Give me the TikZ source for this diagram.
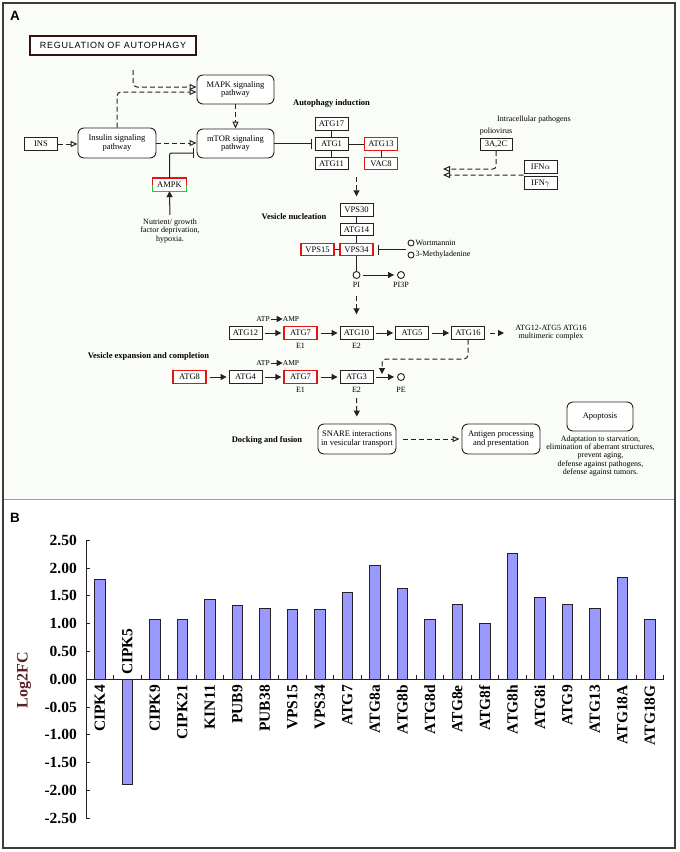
\documentclass[tikz,border=0pt]{standalone}
\usepackage{fontspec}
\setmainfont{Liberation Serif}
\newfontfamily\labsans{Liberation Sans}
\usetikzlibrary{arrows.meta,calc}
\definecolor{kline}{RGB}{40,32,32}
\definecolor{kred}{RGB}{228,20,20}
\definecolor{kgreen}{RGB}{40,200,40}
\definecolor{bgA}{RGB}{249,252,247}
\definecolor{barc}{RGB}{153,153,255}
\definecolor{framec}{RGB}{60,60,60}
\definecolor{divc}{RGB}{150,165,150}
\definecolor{ylab}{RGB}{90,35,40}
\begin{document}
\begin{tikzpicture}[x=1pt,y=-1pt,
 gene/.style={draw=kline, line width=0.9pt, fill=white, minimum width=33pt, minimum height=12.5pt, inner sep=0pt, font=\fontsize{8.5}{9}\selectfont},
 redgene/.style={gene, draw=kred, line width=1.4pt},
 pathway/.style={draw=kline, line width=0.9pt, fill=white, rounded corners=6pt, minimum width=78pt, minimum height=30pt, inner sep=0pt, align=center, font=\fontsize{8.5}{8.5}\selectfont},
 ktext/.style={font=\fontsize{8}{8.2}\selectfont, inner sep=0pt, align=center},
 ksmall/.style={font=\fontsize{7.5}{8}\selectfont, inner sep=0pt},
 kbold/.style={font=\bfseries\fontsize{8.5}{9}\selectfont, inner sep=0pt},
 conn/.style={draw=kline, line width=1pt},
 dsh/.style={conn, dash pattern=on 5pt off 3pt},
 openarr/.style={-{Triangle[open, length=7pt, width=6pt]}},
 fillarr/.style={-{Triangle[length=6pt, width=6pt]}},
 inhib/.style={-{Bar[width=10pt]}},
 cmpd/.style={circle, draw=kline, line width=0.9pt, fill=white, minimum size=7pt, inner sep=0pt},
 axisln/.style={draw=kline, line width=1pt},
 ytl/.style={font=\bfseries\fontsize{15.5}{15.5}\selectfont, inner sep=0pt},
 xtl/.style={font=\bfseries\fontsize{15.5}{15.5}\selectfont, inner sep=0pt, rotate=90},
 panlab/.style={font=\labsans\bfseries\fontsize{13.5}{14}\selectfont, inner sep=0pt, anchor=north west}
]
\useasboundingbox (0,0) rectangle (680,852);
\fill[white] (0,0) rectangle (680,852);
% panels
\fill[bgA] (3,3) rectangle (675,499);
\draw[divc, line width=1.5pt] (3,499.5) -- (675,499.5);
\draw[framec, line width=2pt] (3,3) rectangle (675,848);
\node[panlab] (labA) at (10,11.5) {A};
\node[panlab] (labB) at (10,513) {B};

% ================= Panel A =================
\node[draw={rgb,255:red,50;green,20;blue,20}, line width=1.6pt, fill=white, minimum width=166pt, minimum height=19pt, inner sep=0pt,
  font=\labsans\addfontfeature{LetterSpace=8}\fontsize{9}{9}\selectfont] (title) at (113,45.5) {REGULATION OF AUTOPHAGY};

\node[gene] (ins) at (41,144) {INS};
\node[pathway] (insulin) at (117,143) {Insulin signaling\\pathway};
\node[pathway, minimum width=77pt, minimum height=29pt] (mapk) at (235.5,89.5) {MAPK signaling\\pathway};
\node[pathway, minimum width=77pt, minimum height=29pt] (mtor) at (235.5,143.5) {mTOR signaling\\pathway};
\node[gene, draw=none] (ampk) at (169.5,184.5) {AMPK};
\draw[kred, line width=1.4pt] (ampk.west) |- (ampk.north east) -- (ampk.east);
\draw[kgreen, line width=1.4pt] (ampk.west) |- (ampk.south east) -- (ampk.east);
\node[ktext] (nutr) at (170,231) {Nutrient/ growth\\factor deprivation,\\hypoxia.};
\coordinate (extin) at (133,70);

\draw[dsh, openarr] (ins.east) -- (ins.east -| insulin.west);
\draw[dsh, openarr] (insulin.east) -- (insulin.east -| mtor.west);
\draw[dsh, openarr, rounded corners=4pt] (insulin.north) |- ([yshift=-2.5pt]mapk.west);
\draw[dsh, openarr, rounded corners=4pt] (extin) |- ([yshift=2.5pt]mapk.west);
\draw[dsh, openarr] (mapk) -- (mtor);
\draw[conn, inhib, rounded corners=2pt, shorten >=3pt] (ampk.north) |- ([yshift=-9.5pt]mtor.west);
\draw[conn, fillarr, shorten <=4pt] (nutr.north) -- (ampk.south);

% autophagy induction
\node[kbold] (indl) at (331.5,103) {Autophagy induction};
\node[gene] (atg17) at (331.5,124) {ATG17};
\node[gene] (atg1) at (331.5,144) {ATG1};
\node[gene] (atg11) at (331.5,163.5) {ATG11};
\node[redgene] (atg13) at (381,144) {ATG13};
\node[redgene] (vac8) at (381,163.5) {VAC8};
\draw[conn, inhib, shorten >=3pt] (mtor.east) -- (mtor.east -| atg1.west);
\draw[conn] (atg17) -- (atg1);
\draw[conn] (atg1) -- (atg11);
\draw[conn] (atg1) -- (atg13);
\draw[conn] (atg13) -- (vac8);
\coordinate (indc) at (356.5,177);

% vesicle nucleation
\node[kbold] (nucl) at (294,216.5) {Vesicle nucleation};
\node[gene] (vps30) at (356.5,210) {VPS30};
\node[gene] (atg14) at (356.5,229.5) {ATG14};
\node[redgene] (vps34) at (356.5,249.5) {VPS34};
\node[redgene] (vps15) at (317.5,249.5) {VPS15};
\draw[dsh, fillarr, shorten >=7pt] (indc) -- (vps30.north);
\draw[conn] (vps30) -- (atg14);
\draw[conn] (atg14) -- (vps34);
\draw[conn] (vps15) -- (vps34);
\coordinate (inhc) at (406,249.5);
\draw[conn, inhib, shorten >=4pt] (inhc) -- (vps34.east);
\node[cmpd, minimum size=6pt] (wort) at (411,243) {};
\node[ktext, anchor=west] (wortl) at (415.5,243) {Wortmannin};
\node[cmpd, minimum size=6pt] (mad) at (411,255) {};
\node[ktext, anchor=west] (madl) at (415.5,255) {3-Methyladenine};
\node[cmpd] (pi) at (356.5,275) {};
\node[ktext] (pil) at (356.5,284.5) {PI};
\node[cmpd] (pi3p) at (401,275) {};
\node[ktext] (pi3pl) at (401,284.5) {PI3P};
\draw[conn] (vps34) -- (pi);
\draw[conn, fillarr, shorten <=3pt, shorten >=3pt] (pi) -- (pi3p);
\coordinate (pid) at (356.5,296);

% conjugation rows
\node[gene] (atg12) at (245.5,333) {ATG12};
\node[redgene] (atg7a) at (300.5,333) {ATG7};
\node[gene] (atg10) at (356.5,333) {ATG10};
\node[gene] (atg5) at (412,333) {ATG5};
\node[gene] (atg16) at (468,333) {ATG16};
\draw[dsh, fillarr, shorten >=12pt] (pid) -- (atg10.north);
\foreach \a/\b in {atg12/atg7a, atg7a/atg10, atg10/atg5, atg5/atg16}
  \draw[conn, fillarr, shorten <=3pt, shorten >=2pt] (\a) -- (\b);
\coordinate (cplx) at (504,333);
\draw[dsh, fillarr, shorten <=5pt] (atg16) -- (cplx);
\node[ktext] (cplxl) at (551,332.5) {ATG12-ATG5 ATG16\\multimeric complex};
\node[ksmall] (atp1) at (263,319) {ATP};
\node[ksmall] (amp1) at (291,319) {AMP};
\draw[conn, fillarr, shorten <=1pt] (atp1) -- (amp1);
\node[ktext] (e1a) at (300.5,346) {E1};
\node[ktext] (e2a) at (356.5,346) {E2};

\node[kbold] (expl) at (148.5,356) {Vesicle expansion and completion};
\node[redgene] (atg8) at (189.5,377) {ATG8};
\node[gene] (atg4) at (245.5,377) {ATG4};
\node[redgene] (atg7b) at (300.5,377) {ATG7};
\node[gene] (atg3) at (356.5,377) {ATG3};
\node[cmpd] (pe) at (401,377) {};
\node[ktext] (pel) at (401,390) {PE};
\node[ksmall] (atp2) at (263,363) {ATP};
\node[ksmall] (amp2) at (291,363) {AMP};
\draw[conn, fillarr, shorten <=1pt] (atp2) -- (amp2);
\node[ktext] (e1b) at (300.5,390) {E1};
\node[ktext] (e2b) at (356.5,390) {E2};
\foreach \a/\b in {atg8/atg4, atg4/atg7b, atg7b/atg3}
  \draw[conn, fillarr, shorten <=3pt, shorten >=2pt] (\a) -- (\b);
\draw[conn, fillarr, shorten <=3pt, shorten >=3pt] (atg3) -- (pe);
\coordinate (pej) at (382,374);
\draw[dsh, fillarr, rounded corners=4pt] (atg16.south) |- ($(pej)+(0,-15)$) -- (pej);
\coordinate (e2d) at (356.5,398);

% docking and fusion
\node[kbold] (dockl) at (267,440) {Docking and fusion};
\node[pathway] (snare) at (357,439) {SNARE interactions\\in vesicular transport};
\node[pathway] (antigen) at (501,439) {Antigen processing\\and presentation};
\node[pathway, minimum width=66pt, minimum height=29pt] (apop) at (600,416.5) {Apoptosis};
\node[ktext] (apotext) at (600.5,456) {Adaptation to starvation,\\elimination of aberrant structures,\\prevent aging,\\defense against pathogens,\\defense against tumors.};
\draw[dsh, fillarr, shorten >=7pt] (e2d) -- (snare.north);
\draw[dsh, openarr, shorten <=7pt, shorten >=2pt] (snare) -- (antigen);

% pathogens
\node[ktext] (patl) at (534,120) {Intracellular pathogens};
\node[ktext] (poli) at (496,131.5) {poliovirus};
\node[gene, minimum width=32pt] (p3a) at (496,144.5) {3A,2C};
\node[gene] (ifna) at (540.5,167) {IFN$\alpha$};
\node[gene] (ifng) at (540.5,183) {IFN$\gamma$};
\coordinate (patA) at (443,169);
\coordinate (patB) at (443,175);
\draw[dsh, openarr, rounded corners=3pt] (p3a.south) |- (patA);
\draw[dsh, openarr] ($(ifna.south west)!0.5!(ifng.north west)$) -- (patB);

% ================= Panel B =================
\draw[axisln] (86,540) -- (86,818);
\foreach \v/\t [count=\k] in {2.5/2.50,2/2.00,1.5/1.50,1/1.00,0.5/0.50,0/0.00,-0.5/-0.05,-1/-1.00,-1.5/-1.50,-2/-2.00,-2.5/-2.50} {
  \pgfmathsetmacro\yy{679.3-(\v)*55.6}
  \draw[axisln] (86,\yy) -- (90,\yy);
  \node[ytl, anchor=east] (yt\k) at (77,\yy) {\t};
}
\node[font=\bfseries\fontsize{16}{16}\selectfont, text=ylab, rotate=90, inner sep=0pt] (ylabel) at (24,680) {Log2FC};
\foreach \nm/\v/\an/\ly [count=\i] in {CIPK4/1.80/east/685, CIPK5/-1.89/west/675, CIPK9/1.08/east/685, CIPK21/1.08/east/685, KIN11/1.44/east/685, PUB9/1.33/east/685, PUB38/1.28/east/685, VPS15/1.26/east/685, VPS34/1.25/east/685, ATG7/1.56/east/685, ATG8a/2.04/east/685, ATG8b/1.63/east/685, ATG8d/1.07/east/685, ATG8e/1.34/east/685, ATG8f/1.01/east/685, ATG8h/2.26/east/685, ATG8i/1.48/east/685, ATG9/1.34/east/685, ATG13/1.28/east/685, ATG18A/1.83/east/685, ATG18G/1.08/east/685} {
  \pgfmathsetmacro\xc{86+27.5*(\i-0.5)}
  \pgfmathsetmacro\yt{679.3-(\v)*55.6}
  \draw[fill=barc, draw=kline, line width=0.8pt] (\xc-5.25,679.3) rectangle (\xc+5.25,\yt);
  \node[xtl, anchor=\an] (xl\i) at (\xc,\ly) {\nm};
}
\draw[axisln] (86,679.3) -- (664,679.3);
\foreach \k in {1,...,21} \draw[axisln] (86+27.5*\k,679.3) -- ++(0,-4);
\end{tikzpicture}
\end{document}
